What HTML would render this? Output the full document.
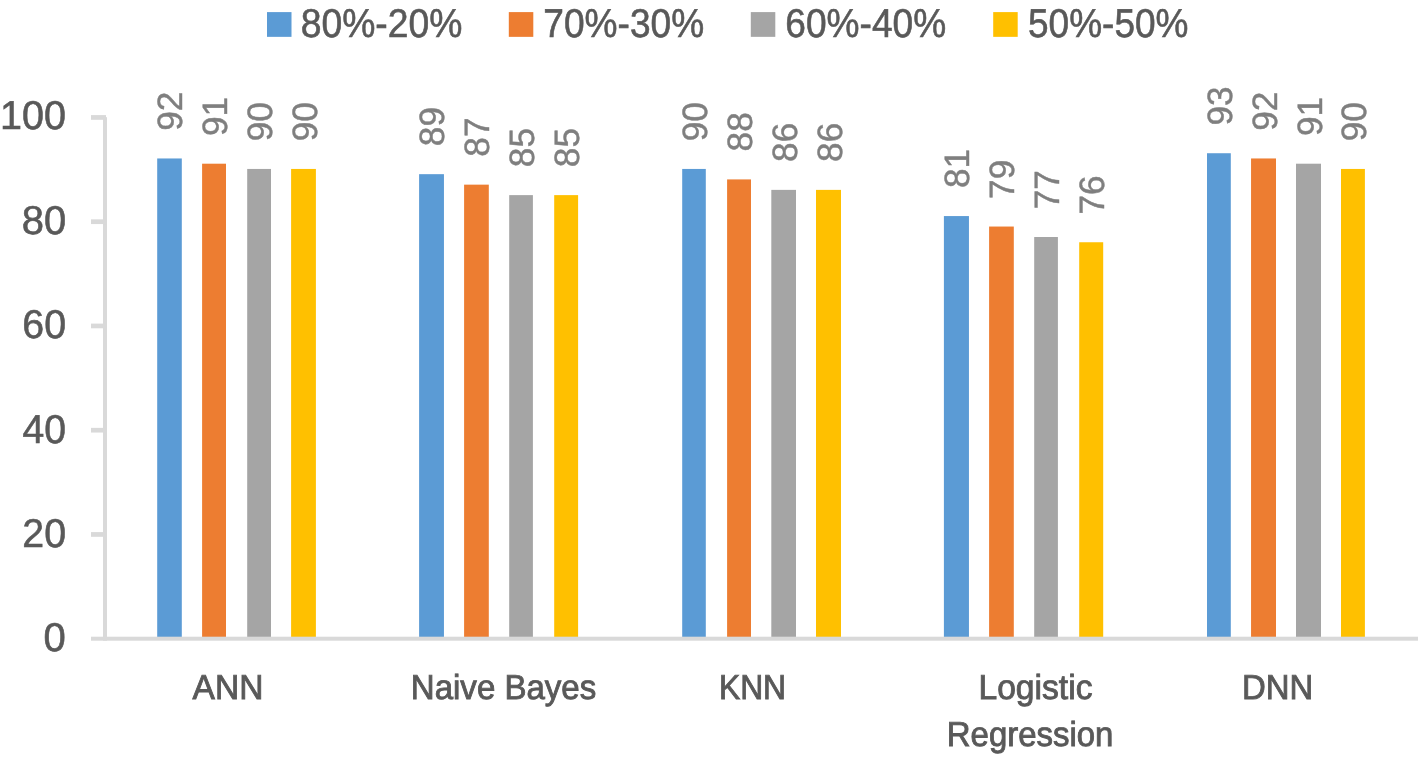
<!DOCTYPE html>
<html lang="en"><head><meta charset="utf-8"><title>Classifier accuracy by train-test split</title>
<style>
html,body{margin:0;padding:0;background:#fff;width:1421px;height:758px;overflow:hidden}
svg{display:block;font-family:"Liberation Sans",Arial,sans-serif;text-rendering:geometricPrecision}
</style></head><body>
<svg width="1421" height="758" viewBox="0 0 1421 758">
<rect width="1421" height="758" fill="#fff"/>
<g id="bars">
<rect x="157.20" y="158.46" width="24.60" height="480.54" fill="#5B9BD5"/>
<rect x="202.10" y="163.70" width="23.90" height="475.30" fill="#ED7D31"/>
<rect x="247.20" y="168.94" width="23.80" height="470.06" fill="#A5A5A5"/>
<rect x="291.10" y="168.94" width="24.80" height="470.06" fill="#FFC000"/>
<rect x="419.10" y="174.17" width="24.85" height="464.83" fill="#5B9BD5"/>
<rect x="464.10" y="184.65" width="24.70" height="454.35" fill="#ED7D31"/>
<rect x="509.20" y="195.12" width="23.70" height="443.88" fill="#A5A5A5"/>
<rect x="554.20" y="195.12" width="23.90" height="443.88" fill="#FFC000"/>
<rect x="682.20" y="168.94" width="23.60" height="470.06" fill="#5B9BD5"/>
<rect x="727.10" y="179.41" width="23.90" height="459.59" fill="#ED7D31"/>
<rect x="771.30" y="189.88" width="24.70" height="449.12" fill="#A5A5A5"/>
<rect x="816.00" y="189.88" width="25.00" height="449.12" fill="#FFC000"/>
<rect x="943.90" y="216.07" width="25.05" height="422.93" fill="#5B9BD5"/>
<rect x="989.10" y="226.54" width="24.70" height="412.46" fill="#ED7D31"/>
<rect x="1034.20" y="237.01" width="23.70" height="401.99" fill="#A5A5A5"/>
<rect x="1079.20" y="242.25" width="24.00" height="396.75" fill="#FFC000"/>
<rect x="1207.00" y="153.23" width="23.80" height="485.77" fill="#5B9BD5"/>
<rect x="1251.05" y="158.46" width="24.95" height="480.54" fill="#ED7D31"/>
<rect x="1296.00" y="163.70" width="25.00" height="475.30" fill="#A5A5A5"/>
<rect x="1341.00" y="168.94" width="23.90" height="470.06" fill="#FFC000"/>
</g>
<g id="axes" fill="#D9D9D9">
<rect x="103" y="117.2" width="4" height="523.5"/>
<rect x="91" y="636.7" width="1327" height="4"/>
<rect x="91" y="115.10" width="15" height="4.7"/>
<rect x="91" y="219.35" width="15" height="4.7"/>
<rect x="91" y="323.60" width="15" height="4.7"/>
<rect x="91" y="427.85" width="15" height="4.7"/>
<rect x="91" y="532.10" width="15" height="4.7"/>
</g>
<g id="yaxis-labels">
<text x="-0.01" y="128.62" font-size="40.2" textLength="65.94" lengthAdjust="spacingAndGlyphs" fill="#595959" stroke="#595959" stroke-width="0.6">100</text>
<text x="21.70" y="233.67" font-size="40.2" textLength="44.39" lengthAdjust="spacingAndGlyphs" fill="#595959" stroke="#595959" stroke-width="0.6">80</text>
<text x="22.33" y="337.72" font-size="40.2" textLength="43.73" lengthAdjust="spacingAndGlyphs" fill="#595959" stroke="#595959" stroke-width="0.6">60</text>
<text x="22.52" y="442.72" font-size="40.2" textLength="43.54" lengthAdjust="spacingAndGlyphs" fill="#595959" stroke="#595959" stroke-width="0.6">40</text>
<text x="22.33" y="546.62" font-size="40.2" textLength="43.73" lengthAdjust="spacingAndGlyphs" fill="#595959" stroke="#595959" stroke-width="0.6">20</text>
<text x="43.60" y="650.67" font-size="40.2" textLength="22.25" lengthAdjust="spacingAndGlyphs" fill="#595959" stroke="#595959" stroke-width="0.6">0</text>
</g>
<g id="data-labels" fill="#7F7F7F" stroke="#7F7F7F" stroke-width="0.45" font-size="35.2">
<text transform="translate(181.94,130.82) rotate(-90)">92</text>
<text transform="translate(226.81,136.06) rotate(-90)">91</text>
<text transform="translate(271.68,141.30) rotate(-90)">90</text>
<text transform="translate(316.55,141.30) rotate(-90)">90</text>
<text transform="translate(444.42,146.18) rotate(-90)">89</text>
<text transform="translate(489.29,156.66) rotate(-90)">87</text>
<text transform="translate(534.16,167.13) rotate(-90)">85</text>
<text transform="translate(579.03,167.13) rotate(-90)">85</text>
<text transform="translate(706.89,141.30) rotate(-90)">90</text>
<text transform="translate(751.76,151.42) rotate(-90)">88</text>
<text transform="translate(796.63,161.89) rotate(-90)">86</text>
<text transform="translate(841.50,161.89) rotate(-90)">86</text>
<text transform="translate(969.37,188.08) rotate(-90)">81</text>
<text transform="translate(1014.24,198.90) rotate(-90)">79</text>
<text transform="translate(1059.11,209.37) rotate(-90)">77</text>
<text transform="translate(1103.98,214.61) rotate(-90)">76</text>
<text transform="translate(1231.84,125.59) rotate(-90)">93</text>
<text transform="translate(1276.71,130.82) rotate(-90)">92</text>
<text transform="translate(1321.58,136.06) rotate(-90)">91</text>
<text transform="translate(1366.45,141.30) rotate(-90)">90</text>
</g>
<g id="category-labels">
<text x="192.55" y="699.42" font-size="34.7" textLength="70.83" lengthAdjust="spacingAndGlyphs" fill="#595959" stroke="#595959" stroke-width="0.9">ANN</text>
<text x="410.81" y="699.41" font-size="34.7" textLength="185.46" lengthAdjust="spacingAndGlyphs" fill="#595959" stroke="#595959" stroke-width="0.9">Naive Bayes</text>
<text x="718.90" y="699.42" font-size="34.7" textLength="67.24" lengthAdjust="spacingAndGlyphs" fill="#595959" stroke="#595959" stroke-width="0.9">KNN</text>
<text x="978.46" y="699.47" font-size="34.7" textLength="114.02" lengthAdjust="spacingAndGlyphs" fill="#595959" stroke="#595959" stroke-width="0.9">Logistic</text>
<text x="946.82" y="745.57" font-size="34.7" textLength="166.58" lengthAdjust="spacingAndGlyphs" fill="#595959" stroke="#595959" stroke-width="0.9">Regression</text>
<text x="1241.92" y="699.42" font-size="34.7" textLength="71.25" lengthAdjust="spacingAndGlyphs" fill="#595959" stroke="#595959" stroke-width="0.9">DNN</text>
</g>
<g id="legend">
<rect x="267.0" y="12.1" width="24.5" height="24.75" fill="#5B9BD5"/>
<text x="300.71" y="36.82" font-size="40.2" textLength="161.63" lengthAdjust="spacingAndGlyphs" fill="#595959" stroke="#595959" stroke-width="0.6">80%-20%</text>
<rect x="508.8" y="12.1" width="24.5" height="24.75" fill="#ED7D31"/>
<text x="543.35" y="36.82" font-size="40.2" textLength="160.79" lengthAdjust="spacingAndGlyphs" fill="#595959" stroke="#595959" stroke-width="0.6">70%-30%</text>
<rect x="750.8" y="12.1" width="24.5" height="24.75" fill="#A5A5A5"/>
<text x="785.35" y="36.82" font-size="40.2" textLength="160.79" lengthAdjust="spacingAndGlyphs" fill="#595959" stroke="#595959" stroke-width="0.6">60%-40%</text>
<rect x="993.2" y="12.1" width="24.5" height="24.75" fill="#FFC000"/>
<text x="1028.02" y="36.82" font-size="40.2" textLength="160.51" lengthAdjust="spacingAndGlyphs" fill="#595959" stroke="#595959" stroke-width="0.6">50%-50%</text>
</g>
</svg>
</body></html>
